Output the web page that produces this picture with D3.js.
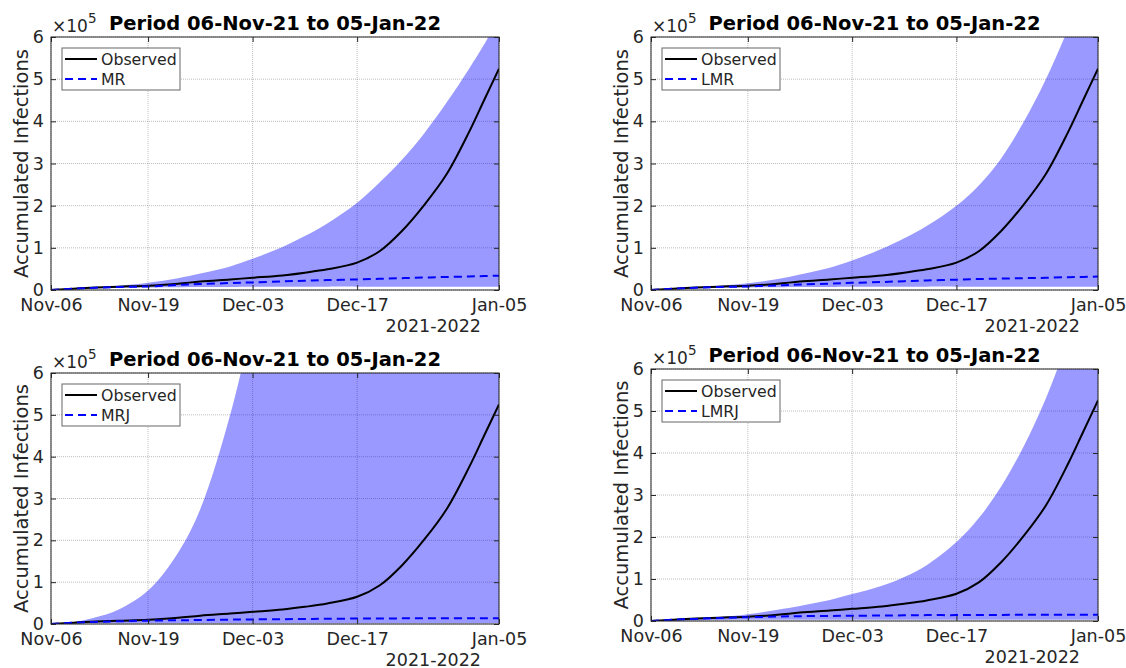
<!DOCTYPE html>
<html>
<head>
<meta charset="utf-8">
<script src="https://cdn.jsdelivr.net/npm/d3@7"></script>
<style>
	body { margin: 0; background: #fff; }
	svg { display: block; font-family: "DejaVu Sans", sans-serif; }
</style>
</head>
<body>
<svg width="1126" height="668"></svg>
<script>
// accumulated infections, in units of 1e5, sampled at days after 06-Nov-21
var sampleDays = [0, 3, 6, 9, 13, 17, 20, 24, 27, 31, 34, 37, 41, 44, 47, 50, 53, 56, 58, 60];

var observed  = [0, 0.03, 0.06, 0.08, 0.10, 0.15, 0.20, 0.25, 0.29, 0.345, 0.41, 0.49, 0.65, 0.92, 1.40, 2.02, 2.75, 3.75, 4.50, 5.25];

var mrFit     = [0, 0.03, 0.055, 0.07, 0.085, 0.12, 0.14, 0.165, 0.18, 0.205, 0.22, 0.235, 0.25, 0.265, 0.28, 0.295, 0.31, 0.32, 0.33, 0.34];
var mrUpper   = [0, 0.03, 0.06, 0.10, 0.17, 0.28, 0.39, 0.56, 0.74, 1.02, 1.28, 1.58, 2.07, 2.55, 3.09, 3.72, 4.45, 5.25, 5.82, 6.45];
var mrLower   = [0, 0.02, 0.04, 0.05, 0.06, 0.065, 0.07, 0.07, 0.075, 0.075, 0.075, 0.08, 0.08, 0.08, 0.08, 0.08, 0.08, 0.08, 0.08, 0.08];

var lmrFit    = [0, 0.03, 0.055, 0.07, 0.085, 0.11, 0.13, 0.15, 0.17, 0.19, 0.21, 0.225, 0.245, 0.26, 0.27, 0.28, 0.29, 0.305, 0.31, 0.32];
var lmrUpper  = [0, 0.03, 0.06, 0.10, 0.16, 0.26, 0.37, 0.53, 0.70, 0.98, 1.23, 1.52, 2.00, 2.48, 3.12, 3.98, 5.00, 6.20, 7.10, 8.00];
var lmrLower  = [0, 0.02, 0.04, 0.05, 0.06, 0.065, 0.07, 0.07, 0.075, 0.075, 0.075, 0.08, 0.08, 0.08, 0.08, 0.08, 0.08, 0.08, 0.08, 0.08];

var mrjFit    = [0, 0.03, 0.05, 0.065, 0.08, 0.09, 0.095, 0.105, 0.11, 0.115, 0.12, 0.125, 0.13, 0.13, 0.135, 0.135, 0.14, 0.14, 0.14, 0.14];
var mrjUpper  = [0, 0.04, 0.16, 0.34, 0.80, 1.70, 2.75, 5.00, 7.30, 11, 14, 18, 23, 28, 33, 39, 45, 52, 57, 62];
var mrjLower  = [0, 0.01, 0.015, 0.02, 0.02, 0.02, 0.02, 0.02, 0.02, 0.02, 0.02, 0.02, 0.02, 0.02, 0.02, 0.02, 0.02, 0.02, 0.02, 0.02];

var lmrjFit   = [0, 0.03, 0.05, 0.07, 0.09, 0.105, 0.115, 0.12, 0.125, 0.13, 0.135, 0.14, 0.14, 0.145, 0.145, 0.15, 0.15, 0.15, 0.15, 0.15];
var lmrjUpper = [0, 0.03, 0.06, 0.09, 0.16, 0.27, 0.36, 0.50, 0.64, 0.84, 1.05, 1.33, 1.88, 2.45, 3.20, 4.15, 5.30, 6.70, 7.70, 8.80];
var lmrjLower = [0, 0.01, 0.02, 0.025, 0.03, 0.03, 0.03, 0.03, 0.03, 0.03, 0.03, 0.03, 0.03, 0.03, 0.03, 0.03, 0.03, 0.03, 0.03, 0.03];

var modelNames = ['MR', 'LMR', 'MRJ', 'LMRJ'];
var tickDates = ['2021-11-06', '2021-11-19', '2021-12-03', '2021-12-17', '2022-01-05'];
var yTicks = [0, 1, 2, 3, 4, 5, 6];
var titleText = 'Period 06-Nov-21 to 05-Jan-22';
var yLabel = 'Accumulated Infections';
var yearLabel = '2021-2022';

var models = [
	{name: modelNames[0], fit: mrFit, upper: mrUpper, lower: mrLower},
	{name: modelNames[1], fit: lmrFit, upper: lmrUpper, lower: lmrLower},
	{name: modelNames[2], fit: mrjFit, upper: mrjUpper, lower: mrjLower},
	{name: modelNames[3], fit: lmrjFit, upper: lmrjUpper, lower: lmrjLower}
];

// axes boxes of the four panels
var boxes = [
	{left: 51, right: 499, top: 37, bottom: 290},
	{left: 651, right: 1098, top: 37, bottom: 290},
	{left: 51, right: 499, top: 373, bottom: 624},
	{left: 651, right: 1098, top: 369, bottom: 621}
];

var axisColor = '#262626';
var parseDate = d3.timeParse('%Y-%m-%d');
var startDate = parseDate(tickDates[0]);
var ticks = tickDates.map(parseDate);
var dates = sampleDays.map((d) => d3.timeDay.offset(startDate, d));
var curve = d3.curveCatmullRom.alpha(0.5);

var svg = d3.select('svg');

models.forEach(function(m, i){
	var b = boxes[i];
	var x = d3.scaleTime().domain([startDate, ticks[ticks.length - 1]]).range([b.left, b.right]);
	var y = d3.scaleLinear().domain([0, 6]).range([b.bottom, b.top]);
	var g = svg.append('g');

	var clipId = 'clip' + i;
	g.append('clipPath').attr('id', clipId)
		.append('rect')
		.attr('x', b.left).attr('y', b.top)
		.attr('width', b.right - b.left).attr('height', b.bottom - b.top);

	// dotted grid
	var grid = g.append('g')
		.attr('stroke', axisColor)
		.attr('stroke-opacity', 0.3)
		.attr('stroke-width', 1)
		.attr('stroke-dasharray', '1,1');
	grid.selectAll('.vx').data(ticks).enter().append('line')
		.attr('x1', (d) => x(d)).attr('x2', (d) => x(d))
		.attr('y1', b.top).attr('y2', b.bottom);
	grid.selectAll('.hy').data(yTicks).enter().append('line')
		.attr('x1', b.left).attr('x2', b.right)
		.attr('y1', (d) => y(d)).attr('y2', (d) => y(d));

	var plot = g.append('g').attr('clip-path', 'url(#' + clipId + ')');

	var rows = dates.map((d, k) => ({date: d, obs: observed[k], fit: m.fit[k], up: m.upper[k], lo: m.lower[k]}));

	var area = d3.area()
		.x((d) => x(d.date))
		.y0((d) => y(d.lo))
		.y1((d) => y(d.up))
		.curve(curve);

	plot.append('path')
		.datum(rows)
		.attr('d', area)
		.attr('fill', '#0000ff')
		.attr('fill-opacity', 0.4);

	var obsLine = d3.line().x((d) => x(d.date)).y((d) => y(d.obs)).curve(curve);
	var fitLine = d3.line().x((d) => x(d.date)).y((d) => y(d.fit)).curve(curve);

	plot.append('path')
		.datum(rows)
		.attr('d', obsLine)
		.attr('fill', 'none')
		.attr('stroke', '#000')
		.attr('stroke-width', 2);

	plot.append('path')
		.datum(rows)
		.attr('d', fitLine)
		.attr('fill', 'none')
		.attr('stroke', '#0000ff')
		.attr('stroke-width', 2)
		.attr('stroke-dasharray', '8,5');

	// axes with inward ticks
	var fmt = d3.timeFormat('%b-%d');
	var axB = g.append('g').attr('transform', 'translate(0,' + b.bottom + ')')
		.call(d3.axisBottom(x).tickValues(ticks).tickFormat(fmt).tickSize(-5).tickPadding(9));
	var axL = g.append('g').attr('transform', 'translate(' + b.left + ',0)')
		.call(d3.axisLeft(y).tickValues(yTicks).tickFormat(d3.format('d')).tickSize(-5).tickPadding(7));
	var axT = g.append('g').attr('transform', 'translate(0,' + b.top + ')')
		.call(d3.axisTop(x).tickValues(ticks).tickFormat('').tickSize(-5));
	var axR = g.append('g').attr('transform', 'translate(' + b.right + ',0)')
		.call(d3.axisRight(y).tickValues(yTicks).tickFormat('').tickSize(-5));

	[axB, axL, axT, axR].forEach(function(ax){
		ax.attr('font-family', null).attr('font-size', 17.5);
		ax.select('.domain').remove();
		ax.selectAll('line').attr('stroke', axisColor);
		ax.selectAll('text').attr('fill', axisColor);
	});

	g.append('rect')
		.attr('x', b.left).attr('y', b.top)
		.attr('width', b.right - b.left).attr('height', b.bottom - b.top)
		.attr('fill', 'none')
		.attr('stroke', axisColor)
		.attr('stroke-width', 1);

	g.append('text')
		.attr('x', b.right - 18).attr('y', b.bottom + 42)
		.attr('text-anchor', 'end')
		.attr('font-size', 17.5)
		.attr('fill', axisColor)
		.text(yearLabel);

	var mult = g.append('text')
		.attr('x', b.left + 1).attr('y', b.top - 5)
		.attr('font-size', 17)
		.attr('fill', axisColor);
	mult.append('tspan').text('\u00d710');
	mult.append('tspan').attr('dy', -9).attr('font-size', 13.5).text('5');

	g.append('text')
		.attr('x', (b.left + b.right) / 2).attr('y', b.top - 7)
		.attr('text-anchor', 'middle')
		.attr('font-size', 19.5)
		.attr('font-weight', 'bold')
		.attr('fill', '#000')
		.text(titleText);

	g.append('text')
		.attr('transform', 'translate(' + (b.left - 23.5) + ',' + ((b.top + b.bottom) / 2) + ') rotate(-90)')
		.attr('text-anchor', 'middle')
		.attr('font-size', 19.5)
		.attr('fill', axisColor)
		.text(yLabel);

	// legend
	var lg = g.append('g').attr('transform', 'translate(' + (b.left + 11) + ',' + (b.top + 11) + ')');
	lg.append('rect')
		.attr('width', 118).attr('height', 42)
		.attr('fill', '#fff')
		.attr('stroke', axisColor)
		.attr('stroke-opacity', 0.7)
		.attr('stroke-width', 1);
	var entries = [
		{label: 'Observed', color: '#000', dash: null},
		{label: m.name, color: '#0000ff', dash: '8,5'}
	];
	entries.forEach(function(e, k){
		var cy = 11 + k * 20;
		lg.append('line')
			.attr('x1', 3).attr('x2', 35)
			.attr('y1', cy).attr('y2', cy)
			.attr('stroke', e.color)
			.attr('stroke-width', 2)
			.attr('stroke-dasharray', e.dash);
		lg.append('text')
			.attr('x', 39).attr('y', cy)
			.attr('dy', '0.35em')
			.attr('font-size', 15.75)
			.attr('fill', axisColor)
			.text(e.label);
	});
});
</script>
</body>
</html>
